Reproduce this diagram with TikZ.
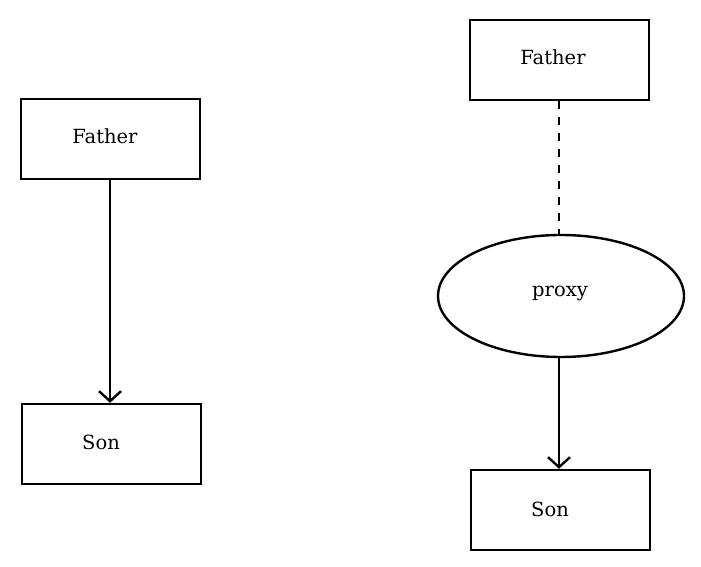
\documentclass[tikz,border=0pt]{standalone}
\usepackage{fontspec}
\setmainfont{DejaVu Serif}
\usetikzlibrary{arrows.meta,shapes.geometric}
\begin{document}
\begin{tikzpicture}[x=1pt,y=1pt,
  box/.style={draw,line width=2.4pt,minimum width=179pt,minimum height=80pt,inner sep=0pt},
  oval/.style={draw,ellipse,line width=2.4pt,minimum width=246pt,minimum height=122pt,inner sep=0pt},
  txt/.style={font=\fontsize{19.5}{22}\selectfont},
  link/.style={line width=2.4pt},
  arr/.style={line width=2.4pt,-{Straight Barb[length=10pt,width=22pt,line width=2.4pt]}}]
\useasboundingbox (0,0) rectangle (701,567);
\node[box] (f1) at (110.5,428) {};
\node[txt] (f1t) at (105,431) {Father};
\node[box] (s1) at (111.5,123) {};
\node[txt] (s1t) at (101,125) {Son};
\node[box] (f2) at (559.5,507) {};
\node[txt] (f2t) at (553,510) {Father};
\node[oval] (e) at (561,271) {};
\node[txt] (et) at (560,274) {proxy};
\node[box] (s2) at (560.5,57) {};
\node[txt] (s2t) at (550,58) {Son};
\draw[arr] ([xshift=-0.5pt]f1.south) -- ([xshift=-0.5pt]f1.south |- s1.north);
\draw[link,dash pattern=on 8pt off 8pt] ([xshift=-0.5pt]f2.south) -- ([xshift=-0.5pt]f2.south |- e.north);
\draw[arr] ([xshift=-0.5pt]f2.south |- e.south) -- ([xshift=-0.5pt]f2.south |- s2.north);
\end{tikzpicture}
\end{document}
